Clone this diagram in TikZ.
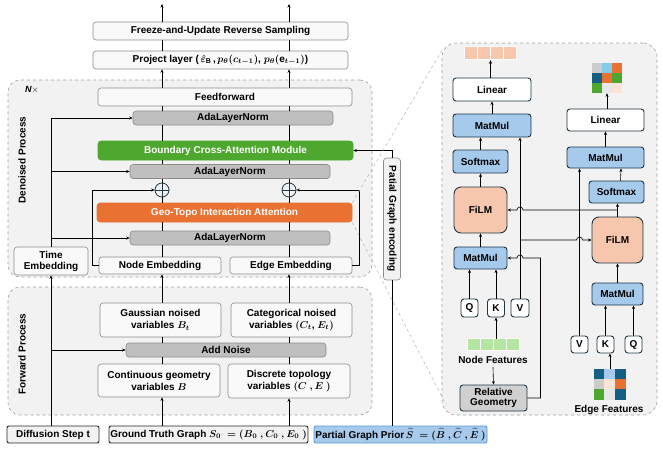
\documentclass[tikz,border=0pt]{standalone}
\usepackage{amsmath,amssymb}
\usepackage{graphicx}
\usepackage{fontspec}
\setmainfont{Liberation Sans}
\usepackage{xcolor}
\usepackage{tikz}
\usetikzlibrary{arrows.meta,positioning,calc}

\definecolor{panelgray}{HTML}{F2F2F2}
\definecolor{boxfill}{HTML}{F9F9F9}
\definecolor{boxline}{HTML}{8C8C8C}
\definecolor{normgray}{HTML}{BFBFBF}
\definecolor{bcagreen}{HTML}{4EA72E}
\definecolor{geoorange}{HTML}{E97132}
\definecolor{mmblue}{HTML}{A6CAEC}
\definecolor{filmpeach}{HTML}{F6C6AD}
\definecolor{darkslate}{HTML}{1F3645}
\definecolor{priorline}{HTML}{5B9BD5}
\definecolor{featgreen}{HTML}{B4E5A2}
\definecolor{relgray}{HTML}{D0D0D0}
\definecolor{cdark}{HTML}{156082}
\definecolor{csky}{HTML}{83CBEB}
\definecolor{clight}{HTML}{E8E8E8}
\definecolor{cblush}{HTML}{FBE3D6}
\definecolor{cgrey}{HTML}{CCCCCC}

\begin{document}
\begin{tikzpicture}[x=1pt, y=-1pt,
  font=\fontsize{10}{12}\selectfont\bfseries\boldmath,
  wh/.style 2 args={minimum width=#1pt, minimum height=#2pt},
  box/.style={draw=boxline, fill=boxfill, rounded corners=3pt, line width=0.6pt, inner sep=0pt, align=center},
  norm/.style={box, fill=normgray},
  blk/.style={draw=darkslate, fill=white, rounded corners=3pt, line width=0.9pt, inner sep=0pt, align=center},
  inp/.style={draw=black!85, fill=panelgray, rounded corners=2pt, line width=0.9pt, inner sep=0pt},
  region/.style={draw=gray!75, dashed, fill=panelgray, rounded corners=12pt, line width=0.6pt},
  zoomln/.style={draw=gray!60, dashed, line width=0.5pt},
  arr/.style={-{Stealth[length=3.5pt,width=3pt]}, line width=0.6pt},
  ln/.style={line width=0.6pt}
]
  \useasboundingbox (0,0) rectangle (663,450);
  \coordinate (ca) at (162,0);
  \coordinate (cb) at (289,0);
  \coordinate (topa) at (162,4);
  \coordinate (topb) at (289,4);

  % denoising stack
  \node[region, wh={364}{197}] (denoised) at (190,178.5) {};
  \node[region, wh={364}{128}] (forward) at (190,351) {};
  \node[rotate=90] (dlabel) at (22,160) {Denoised Process};
  \node[rotate=90] (flabel) at (22,354) {Forward Process};
  \node[font=\fontsize{9}{10}\selectfont\bfseries\itshape] (nx) at (32,90) {N$\times$};

  \node[box, wh={255}{18}] (freeze) at (220.5,31) {Freeze-and-Update Reverse Sampling};
  \node[box, wh={255}{18}] (proj) at (220.5,60) {Project layer (\,$\hat{\varepsilon}_{\mathrm{B}}$\,,\,$p_\theta(c_{t-1})$, $p_\theta(\mathrm{e}_{t-1})$)};
  \node[box, wh={254}{18}] (ff) at (225,97) {Feedforward};
  \node[norm, wh={200}{14}] (ada1) at (233,118) {AdaLayerNorm};
  \node[box, draw=bcagreen, fill=bcagreen, text=white, wh={255}{19}] (bca) at (225.5,150.5) {Boundary Cross-Attention Module};
  \node[norm, wh={200}{14}] (ada2) at (230,171.5) {AdaLayerNorm};
  \node[circle, draw=darkslate, line width=0.8pt, minimum size=14pt, inner sep=0pt] (plus1) at (162,190) {};
  \node[circle, draw=darkslate, line width=0.8pt, minimum size=14pt, inner sep=0pt] (plus2) at (289,190) {};
  \node[box, draw=geoorange, fill=geoorange, text=white, wh={255}{19}] (geo) at (224.5,212.5) {Geo-Topo Interaction Attention};
  \node[norm, wh={200}{14}] (ada3) at (230,238) {AdaLayerNorm};
  \node[box, wh={74}{28}] (temb) at (51,261) {Time\\[-1pt]Embedding};
  \node[box, wh={122}{17}] (nemb) at (160,265.5) {Node Embedding};
  \node[box, wh={122}{17}] (eemb) at (291,265.5) {Edge Embedding};

  % forward process
  \node[box, wh={121}{34}] (gaus) at (160.5,320) {Gaussian noised\\variables $B_t$};
  \node[box, wh={121}{34}] (cat) at (291.5,320) {Categorical noised\\variables $(C_t$, $E_t)$};
  \node[norm, wh={200}{14}] (addn) at (226,350) {Add Noise};
  \node[box, wh={122}{33}] (cont) at (159,380.5) {Continuous geometry\\variables $B$};
  \node[box, wh={122}{34}] (disc) at (289,381) {Discrete topology\\variables $(C\ , E\ )$};

  % inputs
  \node[inp, wh={92}{17}] (diff) at (53,434.5) {Diffusion Step t};
  \node[inp, wh={199}{17}] (gt) at (208.5,434.5) {Ground Truth Graph $S_0\ = (B_0\ , C_0\ , E_0\ )$};
  \node[inp, draw=priorline, fill=mmblue, wh={173}{17}] (prior) at (400.5,434.5) {Partial Graph Prior\,$\widetilde{S}\ = (\widetilde{B}\ , \widetilde{C}\ , \widetilde{E}\ )$};
  \node[box, fill=panelgray, wh={17}{122}] (enc) at (392,219) {\rotatebox{-90}{Patial Graph encoding}};

  \draw[ln, darkslate] (plus1.north) -- (plus1.south) (plus1.west) -- (plus1.east);
  \draw[ln, darkslate] (plus2.north) -- (plus2.south) (plus2.west) -- (plus2.east);

  % main columns
  \foreach \a/\b in {nemb/ada3, ada3/geo, geo/plus1, plus1/ada2, ada2/bca, bca/ada1, ada1/ff}
    \draw[ln] (\a.north -| ca) -- (\b.south -| ca);
  \foreach \a/\b in {eemb/ada3, ada3/geo, geo/plus2, plus2/ada2, ada2/bca, bca/ada1, ada1/ff}
    \draw[ln] (\a.north -| cb) -- (\b.south -| cb);
  \draw[arr] (ff.north -| ca) -- (proj.south -| ca);
  \draw[arr] (ff.north -| cb) -- (proj.south -| cb);
  \draw[ln] (proj.north -| ca) -- (freeze.south -| ca);
  \draw[ln] (proj.north -| cb) -- (freeze.south -| cb);
  \draw[arr] (freeze.north -| topa) -- (topa);
  \draw[arr] (freeze.north -| topb) -- (topb);
  \draw[arr] (nemb.west) -- ++(-6,0) |- (plus1.west);
  \draw[arr] (eemb.east) -- ++(7,0) |- (plus2.east);
  \draw[arr] (gaus.north -| ca) -- (nemb.south -| ca);
  \draw[arr] (cat.north -| cb) -- (eemb.south -| cb);
  \draw[ln] (gaus.south -| ca) -- (addn.north -| ca);
  \draw[ln] (addn.south -| ca) -- (cont.north -| ca);
  \draw[ln] (cat.south -| cb) -- (addn.north -| cb);
  \draw[ln] (addn.south -| cb) -- (disc.north -| cb);
  \draw[arr] (gt.north -| ca) -- (cont.south -| ca);
  \draw[arr] (gt.north -| cb) -- (disc.south -| cb);

  % time step
  \draw[arr] (temb.south |- diff.north) -- (temb.south);
  \draw[arr] (temb.south |- addn.west) -- (addn.west);
  \draw[arr] (temb.north) |- (ada1.west);
  \draw[arr] (temb.north) |- (ada2.west);
  \draw[arr] (temb.north) |- (ada3.west);

  % partial graph prior
  \draw[ln] (enc.south) -- (enc.south |- prior.north);
  \draw[arr] (enc.north) |- (bca.east);

  % zoomed attention panel
  \node[region, rounded corners=14pt, wh={215}{372}] (panel) at (549.5,229) {};
  \draw[zoomln] (geo.north east) -- ([yshift=-8pt]panel.north west);
  \draw[zoomln] (geo.south east) -- ([xshift=4pt,yshift=11pt]panel.south west);

  \node[wh={52}{13}, inner sep=0pt] (out1) at (490.5,53.5) {};
  \foreach \i in {0,...,3}
    \filldraw[fill=filmpeach, draw=white, line width=0.8pt] ($(out1.north west)+(13*\i,0)$) rectangle ++(13,13);
  \node[blk, wh={78}{23}] (lin1) at (492,89.5) {Linear};
  \node[blk, fill=mmblue, wh={78}{23}] (mm1) at (492,125.5) {MatMul};
  \node[blk, fill=mmblue, wh={55}{23}] (soft1) at (480.5,161.5) {Softmax};
  \node[blk, fill=filmpeach, rounded corners=7pt, wh={53}{46}] (film1) at (480.5,210) {FiLM};
  \node[blk, fill=mmblue, wh={53}{22}] (mm2) at (480.5,258) {MatMul};
  \node[blk, wh={17}{18}] (q1) at (469.5,308) {Q};
  \node[blk, wh={17}{18}] (k1) at (496,308) {K};
  \node[blk, wh={18}{18}] (v1) at (520,308) {V};
  \node[wh={52}{12}, inner sep=0pt] (nfeat) at (494,345) {};
  \foreach \i in {0,...,3}
    \filldraw[fill=featgreen, draw=white, line width=0.8pt] ($(nfeat.north west)+(13*\i,0)$) rectangle ++(13,12);
  \node (nflabel) at (493,360) {Node Features};
  \node[blk, fill=relgray, wh={67}{26}] (relg) at (493.5,398) {Relative\\[-2pt]Geometry};

  \node[wh={30}{30}, inner sep=0pt] (out2) at (607,78) {};
  \foreach \c [count=\i from 0] in {cgrey,csky,geoorange,cdark,geoorange,bcagreen,bcagreen,clight,cblush}
    \fill[\c] ($(out2.north west)+({10*mod(\i,3)},{10*floor(\i/3)})$) rectangle ++(10,10);
  \node[blk, wh={77}{22}] (lin2) at (605.5,120) {Linear};
  \node[blk, fill=mmblue, wh={77}{21}] (mm3) at (605.5,157.5) {MatMul};
  \node[blk, fill=mmblue, wh={55}{22}] (soft2) at (616.5,192) {Softmax};
  \node[blk, fill=filmpeach, rounded corners=7pt, wh={51}{46}] (film2) at (617.5,240) {FiLM};
  \node[blk, fill=mmblue, wh={51}{22}] (mm4) at (617.5,294) {MatMul};
  \node[blk, wh={17}{17}] (v2) at (579.5,344.5) {V};
  \node[blk, wh={17}{17}] (k2) at (605.5,344.5) {K};
  \node[blk, wh={17}{17}] (q2) at (633.5,344.5) {Q};
  \node[wh={32}{31}, inner sep=0pt] (efeat) at (610,384.5) {};
  \foreach \c [count=\i from 0] in {cdark,mmblue,cdark,cgrey,cblush,geoorange,bcagreen,clight,cdark}
    \fill[\c] ($(efeat.north west)+({10.67*mod(\i,3)},{10.33*floor(\i/3)})$) rectangle ++(10.67,10.33);
  \node (eflabel) at (609,410) {Edge Features};

  % node attention
  \draw[arr] (lin1.north -| out1) -- (out1.south);
  \draw[arr] (mm1.north) -- (lin1.south);
  \draw[arr] (soft1.north) -- (soft1.north |- mm1.south);
  \draw[arr] (film1.north) -- (soft1.south);
  \draw[arr] (mm2.north) -- (film1.south);
  \draw[arr] (q1.north) -- (q1.north |- mm2.south);
  \draw[arr] (k1.north) -- (k1.north |- mm2.south);
  \draw[arr] (v1.north) -- (v1.north |- mm1.south);
  \draw[arr] (k1.south |- nfeat.north) -- (k1.south);
  \draw[arr] (nflabel.south) -- (relg.north);
  \draw[arr] (relg.east) -- ++(13,0) |- ($(v1.north |- mm2.east)+(3,0)$)
    arc[start angle=0, end angle=180, radius=3pt] -- (mm2.east);

  % edge attention
  \draw[arr] (lin2.north -| out2) -- (out2.south);
  \draw[arr] (mm3.north) -- (lin2.south);
  \draw[arr] ([xshift=4pt]soft2.north) -- ([xshift=15.5pt]mm3.south);
  \draw[arr] (film2.north) -- (film2.north |- soft2.south);
  \draw[arr] (mm4.north) -- (film2.south);
  \draw[arr] (k2.north) -- (k2.north |- mm4.south);
  \draw[arr] (q2.north) -- (q2.north |- mm4.south);
  \draw[arr] (v2.north) -- (v2.north |- mm3.south);
  \draw[arr] (efeat.north) -- (efeat.north |- k2.south);
  \draw[arr] (film2.north |- film1.east) -- ($(v1.north |- film1.east)+(3,0)$)
    arc[start angle=0, end angle=180, radius=3pt] -- (film1.east);
  \draw[arr] (v1.north |- film2.west) -- ($(v2.north |- film2.west)+(-3,0)$)
    arc[start angle=180, end angle=0, radius=3pt] -- (film2.west);
\end{tikzpicture}
\end{document}
